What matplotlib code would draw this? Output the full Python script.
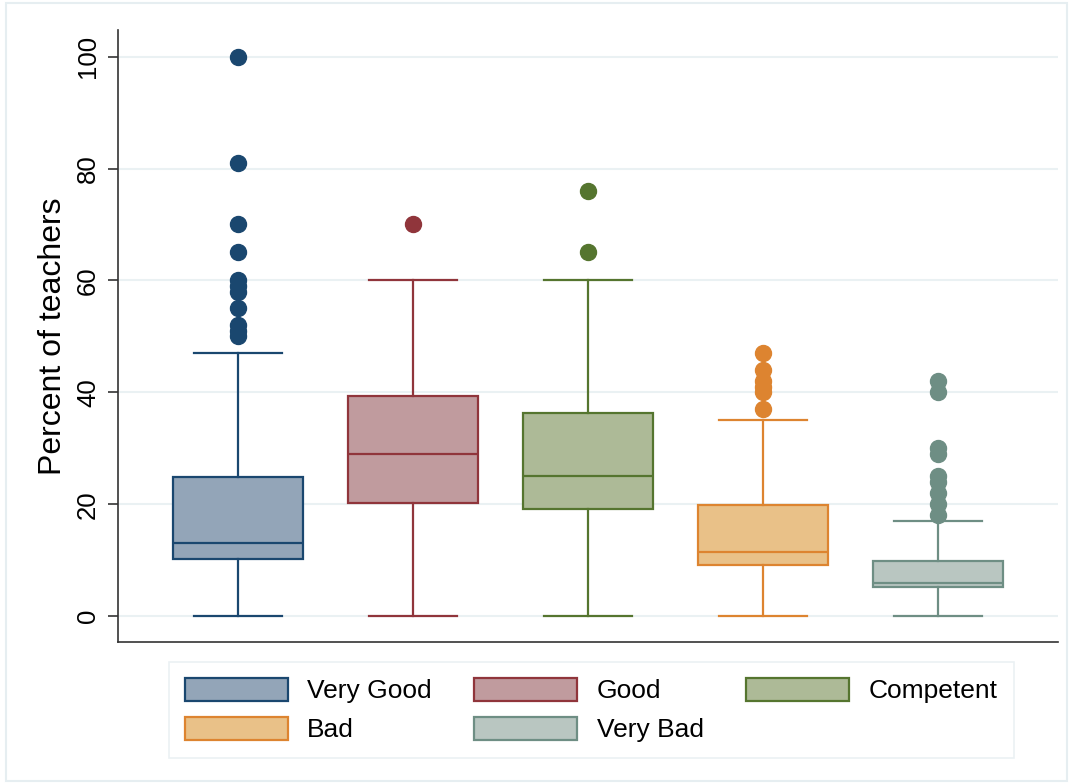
import matplotlib
matplotlib.use("Agg")
import matplotlib.pyplot as plt
from matplotlib.patches import Patch, Rectangle

plt.rcParams['font.family'] = ['Liberation Sans', 'DejaVu Sans']

# data
groups = ['Very Good', 'Good', 'Competent', 'Bad', 'Very Bad']
q1 = [10.2, 20.2, 19.1, 9.1, 5.2]
med = [13.0, 29.0, 25.0, 11.5, 5.9]
q3 = [24.8, 39.3, 36.3, 19.8, 9.8]
whislo = [0, 0, 0, 0, 0]
whishi = [47, 60, 60, 35, 17]
fliers = [
    [100, 81, 70, 65, 60, 59, 58, 55, 52, 51, 50],
    [70],
    [76, 65],
    [47, 44, 42, 41, 40, 37],
    [42, 40, 30, 29, 25, 24, 22, 20, 18],
]
yticks = [0, 20, 40, 60, 80, 100]

edge_colors = ['#1a476f', '#90353b', '#55752f', '#dd8430', '#6e8e84']
fill_colors = ['#93a5b8', '#c09b9e', '#adba97', '#e9c188', '#b9c6c1']

fig = plt.figure(figsize=(10.73, 7.84), dpi=100)
ax = fig.add_axes([0.110, 0.181, 0.876, 0.781])

# light frame round the graph region
fig.patches.append(Rectangle((0.006, 0.004), 0.988, 0.992, transform=fig.transFigure,
                             fill=False, edgecolor='#e6eef1', lw=1.5))

for i in range(len(groups)):
    st = [dict(med=med[i], q1=q1[i], q3=q3[i], whislo=whislo[i],
               whishi=whishi[i], fliers=fliers[i], label=groups[i])]
    ec = edge_colors[i]
    ax.bxp(st, positions=[i + 1], widths=0.74, capwidths=0.5, patch_artist=True,
           boxprops=dict(facecolor=fill_colors[i], edgecolor=ec, linewidth=1.6),
           medianprops=dict(color=ec, linewidth=1.6),
           whiskerprops=dict(color=ec, linewidth=1.6),
           capprops=dict(color=ec, linewidth=1.6),
           flierprops=dict(marker='o', markerfacecolor=ec, markeredgecolor=ec,
                           markersize=11.5))

ax.set_xlim(0.314, 5.686)
ax.set_ylim(-4.65, 104.8)
ax.set_xticks([])
ax.set_yticks(yticks)
ax.set_yticklabels([str(t) for t in yticks], rotation=90, va='center', fontsize=18.5)
ax.tick_params(axis='y', length=7, width=1.2, color='#333333', pad=6)
ax.yaxis.grid(True, color='#eaf1f3', linewidth=1.5)
ax.set_axisbelow(True)
for s in ['top', 'right']:
    ax.spines[s].set_visible(False)
for s in ['left', 'bottom']:
    ax.spines[s].set_color('#333333')
    ax.spines[s].set_linewidth(1.2)
ax.set_ylabel('Percent of teachers', fontsize=23, labelpad=6)

handles = [Patch(facecolor=fill_colors[i], edgecolor=edge_colors[i], linewidth=1.6,
                 label=groups[i]) for i in range(len(groups))]
order = [0, 3, 1, 4, 2]
leg = fig.legend([handles[k] for k in order], [groups[k] for k in order],
                 ncol=3, loc='upper center', bbox_to_anchor=(0.551, 0.156),
                 fontsize=19, handlelength=3.9, handleheight=1.0,
                 columnspacing=1.6, labelspacing=0.5, handletextpad=0.75,
                 frameon=True, fancybox=False, borderpad=0.6, borderaxespad=0)
leg.get_frame().set_edgecolor('#e6eef1')
leg.get_frame().set_linewidth(1.2)

fig.savefig('out.png', dpi=100, facecolor='white')
